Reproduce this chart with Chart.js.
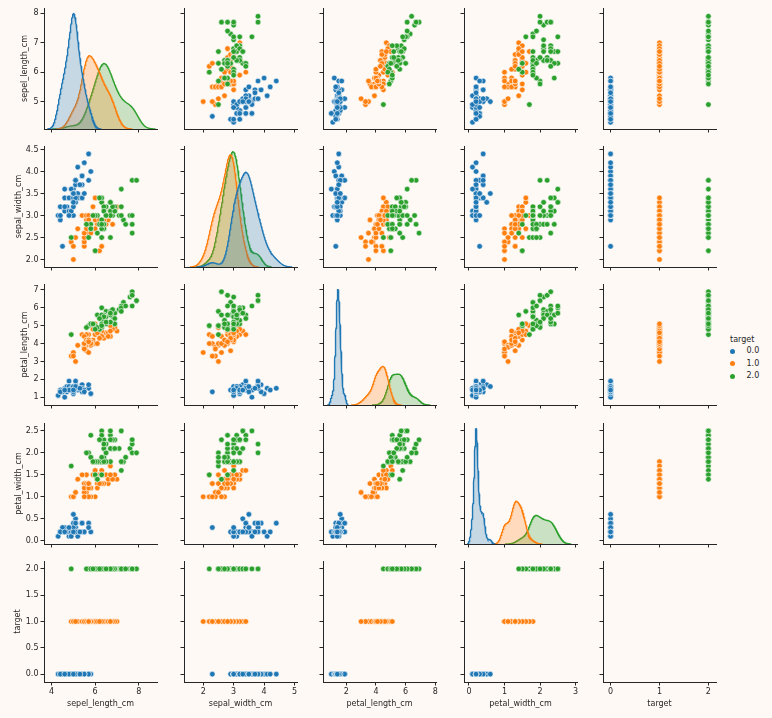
<!DOCTYPE html>
<html lang="en">
<head>
<meta charset="UTF-8" />
<title>Iris pair plot</title>
<script src="https://cdn.jsdelivr.net/npm/chart.js"></script>
<style>
  body { margin: 0; width: 772px; height: 718px; background: #fff9f6; position: relative; overflow: hidden; font-family: "DejaVu Sans", sans-serif; color: #262626; }
  canvas { position: absolute; }
  .lg { position: absolute; font-size: 8px; line-height: 10px; white-space: nowrap; }
  .dot { position: absolute; width: 5px; height: 5px; border-radius: 50%; }
</style>
</head>
<body>
<div id="legend"></div>
<script>
// iris measurements: rows 1-50 class 0, 51-100 class 1, 101-150 class 2
const sepalLength = [
  5.1,4.9,4.7,4.6,5.0,5.4,4.6,5.0,4.4,4.9,5.4,4.8,4.8,4.3,5.8,5.7,5.4,5.1,5.7,5.1,5.4,5.1,4.6,5.1,4.8,5.0,5.0,5.2,5.2,4.7,4.8,5.4,5.2,5.5,4.9,5.0,5.5,4.9,4.4,5.1,5.0,4.5,4.4,5.0,5.1,4.8,5.1,4.6,5.3,5.0,
  7.0,6.4,6.9,5.5,6.5,5.7,6.3,4.9,6.6,5.2,5.0,5.9,6.0,6.1,5.6,6.7,5.6,5.8,6.2,5.6,5.9,6.1,6.3,6.1,6.4,6.6,6.8,6.7,6.0,5.7,5.5,5.5,5.8,6.0,5.4,6.0,6.7,6.3,5.6,5.5,5.5,6.1,5.8,5.0,5.6,5.7,5.7,6.2,5.1,5.7,
  6.3,5.8,7.1,6.3,6.5,7.6,4.9,7.3,6.7,7.2,6.5,6.4,6.8,5.7,5.8,6.4,6.5,7.7,7.7,6.0,6.9,5.6,7.7,6.3,6.7,7.2,6.2,6.1,6.4,7.2,7.4,7.9,6.4,6.3,6.1,7.7,6.3,6.4,6.0,6.9,6.7,6.9,5.8,6.8,6.7,6.7,6.3,6.5,6.2,5.9
];
const sepalWidth = [
  3.5,3.0,3.2,3.1,3.6,3.9,3.4,3.4,2.9,3.1,3.7,3.4,3.0,3.0,4.0,4.4,3.9,3.5,3.8,3.8,3.4,3.7,3.6,3.3,3.4,3.0,3.4,3.5,3.4,3.2,3.1,3.4,4.1,4.2,3.1,3.2,3.5,3.6,3.0,3.4,3.5,2.3,3.2,3.5,3.8,3.0,3.8,3.2,3.7,3.3,
  3.2,3.2,3.1,2.3,2.8,2.8,3.3,2.4,2.9,2.7,2.0,3.0,2.2,2.9,2.9,3.1,3.0,2.7,2.2,2.5,3.2,2.8,2.5,2.8,2.9,3.0,2.8,3.0,2.9,2.6,2.4,2.4,2.7,2.7,3.0,3.4,3.1,2.3,3.0,2.5,2.6,3.0,2.6,2.3,2.7,3.0,2.9,2.9,2.5,2.8,
  3.3,2.7,3.0,2.9,3.0,3.0,2.5,2.9,2.5,3.6,3.2,2.7,3.0,2.5,2.8,3.2,3.0,3.8,2.6,2.2,3.2,2.8,2.8,2.7,3.3,3.2,2.8,3.0,2.8,3.0,2.8,3.8,2.8,2.8,2.6,3.0,3.4,3.1,3.0,3.1,3.1,3.1,2.7,3.2,3.3,3.0,2.5,3.0,3.4,3.0
];
const petalLength = [
  1.4,1.4,1.3,1.5,1.4,1.7,1.4,1.5,1.4,1.5,1.5,1.6,1.4,1.1,1.2,1.5,1.3,1.4,1.7,1.5,1.7,1.5,1.0,1.7,1.9,1.6,1.6,1.5,1.4,1.6,1.6,1.5,1.5,1.4,1.5,1.2,1.3,1.4,1.3,1.5,1.3,1.3,1.3,1.6,1.9,1.4,1.6,1.4,1.5,1.4,
  4.7,4.5,4.9,4.0,4.6,4.5,4.7,3.3,4.6,3.9,3.5,4.2,4.0,4.7,3.6,4.4,4.5,4.1,4.5,3.9,4.8,4.0,4.9,4.7,4.3,4.4,4.8,5.0,4.5,3.5,3.8,3.7,3.9,5.1,4.5,4.5,4.7,4.4,4.1,4.0,4.4,4.6,4.0,3.3,4.2,4.2,4.2,4.3,3.0,4.1,
  6.0,5.1,5.9,5.6,5.8,6.6,4.5,6.3,5.8,6.1,5.1,5.3,5.5,5.0,5.1,5.3,5.5,6.7,6.9,5.0,5.7,4.9,6.7,4.9,5.7,6.0,4.8,4.9,5.6,5.8,6.1,6.4,5.6,5.1,5.6,6.1,5.6,5.5,4.8,5.4,5.6,5.1,5.1,5.9,5.7,5.2,5.0,5.2,5.4,5.1
];
const petalWidth = [
  0.2,0.2,0.2,0.2,0.2,0.4,0.3,0.2,0.2,0.1,0.2,0.2,0.1,0.1,0.2,0.4,0.4,0.3,0.3,0.3,0.2,0.4,0.2,0.5,0.2,0.2,0.4,0.2,0.2,0.2,0.2,0.4,0.1,0.2,0.2,0.2,0.2,0.1,0.2,0.2,0.3,0.3,0.2,0.6,0.4,0.3,0.2,0.2,0.2,0.2,
  1.4,1.5,1.5,1.3,1.5,1.3,1.6,1.0,1.3,1.4,1.0,1.5,1.0,1.4,1.3,1.4,1.5,1.0,1.5,1.1,1.8,1.3,1.5,1.2,1.3,1.4,1.4,1.7,1.5,1.0,1.1,1.0,1.2,1.6,1.5,1.6,1.5,1.3,1.3,1.3,1.2,1.4,1.2,1.0,1.3,1.2,1.3,1.3,1.1,1.3,
  2.5,1.9,2.1,1.8,2.2,2.1,1.7,1.8,1.8,2.5,2.0,1.9,2.1,2.0,2.4,2.3,1.8,2.2,2.3,1.5,2.3,2.0,2.0,1.8,2.1,1.8,1.8,1.8,2.1,1.6,1.9,2.0,2.2,1.5,1.4,2.3,2.4,1.8,1.8,2.1,2.4,2.3,1.9,2.3,2.5,2.3,1.9,2.0,2.3,1.8
];
const target = [
  0,0,0,0,0,0,0,0,0,0,0,0,0,0,0,0,0,0,0,0,0,0,0,0,0,0,0,0,0,0,0,0,0,0,0,0,0,0,0,0,0,0,0,0,0,0,0,0,0,0,
  1,1,1,1,1,1,1,1,1,1,1,1,1,1,1,1,1,1,1,1,1,1,1,1,1,1,1,1,1,1,1,1,1,1,1,1,1,1,1,1,1,1,1,1,1,1,1,1,1,1,
  2,2,2,2,2,2,2,2,2,2,2,2,2,2,2,2,2,2,2,2,2,2,2,2,2,2,2,2,2,2,2,2,2,2,2,2,2,2,2,2,2,2,2,2,2,2,2,2,2,2
];

const varNames = ["sepel_length_cm", "sepal_width_cm", "petal_length_cm", "petal_width_cm", "target"];
const classNames = ["0.0", "1.0", "2.0"];
const classLevels = [0, 1, 2];

// tick values and labels per column (x) and per row (y)
const xTickValues = [[4, 6, 8], [2, 3, 4, 5], [2, 4, 6, 8], [0, 1, 2, 3], [0, 1, 2]];
const xTickLabels = [["4", "6", "8"], ["2", "3", "4", "5"], ["2", "4", "6", "8"], ["0", "1", "2", "3"], ["0", "1", "2"]];
const yTickValues = [[5, 6, 7, 8], [2, 2.5, 3, 3.5, 4, 4.5], [1, 2, 3, 4, 5, 6, 7], [0, 0.5, 1, 1.5, 2, 2.5], [0, 0.5, 1, 1.5, 2]];
const yTickLabels = [
  ["5", "6", "7", "8"],
  ["2.0", "2.5", "3.0", "3.5", "4.0", "4.5"],
  ["1", "2", "3", "4", "5", "6", "7"],
  ["0.0", "0.5", "1.0", "1.5", "2.0", "2.5"],
  ["0.0", "0.5", "1.0", "1.5", "2.0"]
];
const xRanges = [[3.65, 8.84], [1.37, 5.08], [0.44, 8.04], [-0.14, 3.04], [-0.155, 2.155]];
const yRanges = [[4.07, 8.18], [1.83, 4.58], [0.565, 7.33], [-0.075, 2.68], [-0.15, 2.15]];

// look
const colors = ["#1f77b4", "#ff7f0e", "#2ca02c"];
const fills = ["rgba(31,119,180,0.25)", "rgba(255,127,14,0.25)", "rgba(44,160,44,0.25)"];
const ink = "#262626";
const colLeft = [44, 184, 323, 464, 603];
const rowTop = [8, 146, 284, 423, 561];
const cellW = 113, cellH = 121;
const padL = 44, padT = 10, padR = 10, padB = 36;
const yTitlePad = [20.5, 14, 20.5, 14, 13.5];

Chart.defaults.font.family = "'DejaVu Sans', sans-serif";
Chart.defaults.font.size = 8;
Chart.defaults.color = ink;

const columns = [sepalLength, sepalWidth, petalLength, petalWidth, target];

function pick(col, k) {
  return col.filter((v, i) => target[i] === k);
}

// gaussian kernel density (scott bandwidth, cut = 3), like seaborn's kdeplot
function density(values) {
  const n = values.length;
  const mean = values.reduce((a, b) => a + b, 0) / n;
  const sd = Math.sqrt(values.reduce((a, v) => a + (v - mean) * (v - mean), 0) / (n - 1));
  if (sd === 0) return null;
  const bw = sd * Math.pow(n, -0.2);
  const lo = Math.min(...values) - 3 * bw;
  const hi = Math.max(...values) + 3 * bw;
  const pts = [];
  for (let i = 0; i < 200; i++) {
    const x = lo + (hi - lo) * i / 199;
    let s = 0;
    for (const v of values) s += Math.exp(-0.5 * ((x - v) / bw) ** 2);
    pts.push({ x: x, y: s / (n * bw * Math.sqrt(2 * Math.PI)) / 3 });
  }
  return pts;
}

function tickMarks() {
  return { display: true, drawOnChartArea: false, drawTicks: true, tickLength: 3.5, color: ink, lineWidth: 1 };
}

for (let r = 0; r < 5; r++) {
  for (let c = 0; c < 5; c++) {
    const canvas = document.createElement("canvas");
    const w = cellW + padL + padR, h = cellH + padT + padB;
    canvas.width = w;
    canvas.height = h;
    canvas.style.left = (colLeft[c] - padL) + "px";
    canvas.style.top = (rowTop[r] - padT) + "px";
    canvas.style.width = w + "px";
    canvas.style.height = h + "px";
    document.body.appendChild(canvas);

    const datasets = [];
    let densMax = 0;
    if (r === c) {
      classLevels.forEach((k, j) => {
        const pts = density(pick(columns[c], k));
        if (!pts) return;
        pts.forEach(p => { densMax = Math.max(densMax, p.y); });
        datasets.push({
          data: pts, yAxisID: "yd", showLine: true, fill: "origin",
          borderColor: colors[j], backgroundColor: fills[j], borderWidth: 1.4,
          pointRadius: 0, tension: 0, order: j
        });
      });
    } else {
      classLevels.forEach((k, j) => {
        const xs = pick(columns[c], k), ys = pick(columns[r], k);
        datasets.push({
          data: xs.map((x, i) => ({ x: x, y: ys[i] })),
          backgroundColor: colors[j], borderColor: "#ffffff", borderWidth: 0.6,
          pointRadius: 2.8, order: 2 - j
        });
      });
    }

    const scales = {
      x: {
        type: "linear", position: "bottom", min: xRanges[c][0], max: xRanges[c][1],
        afterBuildTicks: s => { s.ticks = xTickValues[c].map(v => ({ value: v })); },
        afterFit: s => { s.height = padB; },
        grid: tickMarks(),
        border: { display: true, color: ink, width: 1 },
        ticks: {
          display: r === 4, padding: 2, maxRotation: 0, autoSkip: false,
          callback: (v, i) => xTickLabels[c][i]
        },
        title: { display: r === 4, text: varNames[c], padding: { top: 0, bottom: 9 } }
      },
      y: {
        type: "linear", position: "left", min: yRanges[r][0], max: yRanges[r][1],
        afterBuildTicks: s => { s.ticks = yTickValues[r].map(v => ({ value: v })); },
        afterFit: s => { s.width = padL; },
        grid: tickMarks(),
        border: { display: true, color: ink, width: 1 },
        ticks: {
          display: c === 0, padding: 2, autoSkip: false,
          callback: (v, i) => yTickLabels[r][i]
        },
        title: { display: c === 0, text: varNames[r], padding: { top: yTitlePad[r], bottom: 0 } }
      }
    };
    if (r === c) {
      scales.yd = { type: "linear", display: false, min: 0, max: densMax > 0 ? densMax * 1.05 : 1 };
    }

    new Chart(canvas, {
      type: "scatter",
      data: { datasets: datasets },
      options: {
        responsive: false, animation: false, events: [],
        layout: { padding: { top: padT, right: padR, left: 0, bottom: 0 } },
        plugins: { legend: { display: false }, tooltip: { enabled: false } },
        scales: scales
      }
    });
  }
}

// legend (hue = target)
const legend = document.getElementById("legend");
const title = document.createElement("div");
title.className = "lg";
title.style.left = "730px";
title.style.top = "335px";
title.textContent = "target";
legend.appendChild(title);
classNames.forEach((name, j) => {
  const cy = 351.3 + j * 12.35;
  const dot = document.createElement("div");
  dot.className = "dot";
  dot.style.background = colors[j];
  dot.style.left = "730px";
  dot.style.top = (cy - 2.5) + "px";
  legend.appendChild(dot);
  const label = document.createElement("div");
  label.className = "lg";
  label.style.left = "746.5px";
  label.style.top = (cy - 5) + "px";
  label.textContent = name;
  legend.appendChild(label);
});
</script>
</body>
</html>
